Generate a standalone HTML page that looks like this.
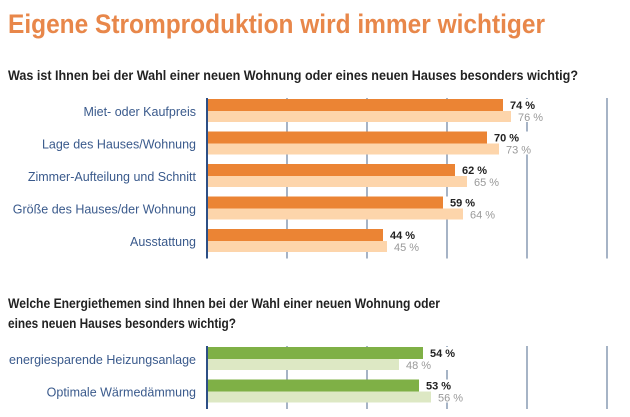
<!DOCTYPE html>
<html><head><meta charset="utf-8"><style>
body{margin:0;background:#fff;width:630px;height:412px;overflow:hidden;font-family:"Liberation Sans",sans-serif;}
svg text{font-family:"Liberation Sans",sans-serif;}
</style></head><body>
<svg width="630" height="412">
<g id="g"></g>
</svg>
<script>
const cats1=["Miet- oder Kaufpreis","Lage des Hauses/Wohnung","Zimmer-Aufteilung und Schnitt","Größe des Hauses/der Wohnung","Ausstattung"];
const cur1=[74,70,62,59,44];
const prev1=[76,73,65,64,45];
const cats2=["energiesparende Heizungsanlage","Optimale Wärmedämmung"];
const cur2=[54,53];
const prev2=[48,56];
const ticks=[20,40,60,80,100];
const NS="http://www.w3.org/2000/svg";
const g=document.getElementById('g');
function x(v){return 207+v*4.0;}
function el(t,a,txt){const e=document.createElementNS(NS,t);for(const k in a)e.setAttribute(k,a[k]);if(txt!==undefined)e.textContent=txt;g.appendChild(e);return e;}
function txt(xx,y,s,opt){const e=el('text',Object.assign({x:xx,y:y},opt),s);return e;}
let t=txt(8,33,"Eigene Stromproduktion wird immer wichtiger",{fill:"#e8874a","font-size":"27","font-weight":"bold",textLength:"537",lengthAdjust:"spacingAndGlyphs"});

t=txt(8,80,"Was ist Ihnen bei der Wahl einer neuen Wohnung oder eines neuen Hauses besonders wichtig?",{fill:"#222","font-size":"14","font-weight":"bold",textLength:"570",lengthAdjust:"spacingAndGlyphs"});

t=txt(8,308,"Welche Energiethemen sind Ihnen bei der Wahl einer neuen Wohnung oder",{fill:"#222","font-size":"14","font-weight":"bold",textLength:"432",lengthAdjust:"spacingAndGlyphs"});

t=txt(8,328,"eines neuen Hauses besonders wichtig?",{fill:"#222","font-size":"14","font-weight":"bold",textLength:"228",lengthAdjust:"spacingAndGlyphs"});


function section(cats,cur,prev,top,dark,light,name){
  const pitch=32.5, n=cats.length;
  const bottom=top+n*pitch-4;
  ticks.forEach(tv=>{
    const l=el('line',{x1:x(tv),x2:x(tv),y1:top-2,y2:bottom,stroke:"#8093ad","stroke-width":1.4});
    
  });
  cats.forEach((c,i)=>{
    const y=top+i*pitch;
    let r=el('rect',{x:x(0),y:y-1,width:x(cur[i])-x(0),height:12,fill:dark});
    
    r=el('rect',{x:x(0),y:y+11,width:x(prev[i])-x(0),height:11,fill:light});
    
    const bx=x(Math.min(cur[i],prev[i]))+2;
    const bg=el('rect',{x:bx,y:y-1,width:x(Math.max(cur[i],prev[i]))+44-bx,height:23,fill:"#fff"});
    
    // redraw bars above bg
    r=el('rect',{x:x(0),y:y-1,width:x(cur[i])-x(0),height:12,fill:dark});
    
    r=el('rect',{x:x(0),y:y+11,width:x(prev[i])-x(0),height:11,fill:light});
    
    let l=txt(x(cur[i])+7,y+9,cur[i]+" %",{fill:"#222","font-size":"11","font-weight":"bold"});
    
    l=txt(x(prev[i])+7,y+21,prev[i]+" %",{fill:"#999","font-size":"11"});
    
    l=txt(196,y+16,c,{fill:"#3a5a8c","font-size":"12.5","text-anchor":"end"});
    
  });
  const a=el('line',{x1:207,x2:207,y1:top-2,y2:bottom,stroke:"#2d4f85","stroke-width":2});
  
}
section(cats1,cur1,prev1,100,"#eb8434","#fdd5ab","housing");
section(cats2,cur2,prev2,348,"#7fb046","#dde8c4","energy");
</script>
</body></html>
